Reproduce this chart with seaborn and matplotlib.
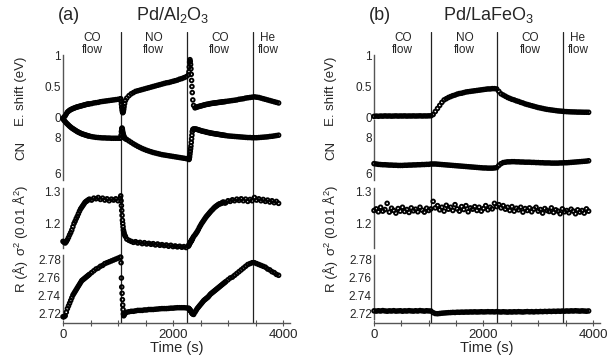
import matplotlib
matplotlib.use("Agg")
import matplotlib.pyplot as plt
import seaborn as sns

# ---- panel (a) Pd/Al2O3 : sampling times (s) and values ----
time_a = [0, 20, 40, 60, 80, 100, 120, 140, 160, 180, 200, 220, 240, 260, 280, 300, 320, 340, 360, 380,
          400, 420, 440, 460, 480,
          520, 560, 600, 640, 680, 720, 760, 800, 840, 880, 920, 960, 1000, 1040,
          1050, 1056, 1062, 1068, 1074, 1080, 1086, 1092, 1098, 1104, 1110, 1120, 1135,
          1160, 1200, 1240, 1280, 1320, 1360, 1400, 1440, 1480, 1520, 1560, 1600, 1640, 1680, 1720, 1760,
          1800, 1840, 1880, 1920, 1960, 2000, 2040, 2080, 2120, 2160, 2200, 2240, 2280,
          2290, 2296, 2302, 2308, 2314, 2320, 2326, 2332, 2338, 2344, 2350, 2360, 2375,
          2400, 2420, 2440, 2460, 2480, 2500, 2520, 2540, 2560, 2580, 2600, 2620, 2640, 2660, 2680, 2700,
          2720, 2740, 2760, 2780, 2800, 2820, 2840, 2860, 2880, 2900, 2920, 2940, 2960,
          3000, 3040, 3080, 3120, 3160, 3200, 3240, 3280, 3320, 3360, 3400, 3440, 3480, 3520, 3560, 3600,
          3640, 3680, 3720, 3760, 3800, 3840, 3880, 3920]

eshift_a = [-0.02, 0.0, 0.02, 0.05, 0.08, 0.095, 0.11, 0.12, 0.13, 0.138, 0.145, 0.152, 0.16, 0.165,
            0.17, 0.175, 0.18, 0.185, 0.19, 0.195, 0.20, 0.205, 0.21, 0.213, 0.215,
            0.22, 0.23, 0.235, 0.24, 0.25, 0.255, 0.26, 0.265, 0.27, 0.275, 0.28, 0.285, 0.29, 0.295,
            0.30, 0.26, 0.21, 0.16, 0.12, 0.09, 0.07, 0.08, 0.10, 0.13, 0.17, 0.22, 0.27,
            0.31, 0.35, 0.38, 0.40, 0.42, 0.43, 0.44, 0.45, 0.46, 0.47, 0.48, 0.49, 0.50, 0.51, 0.52,
            0.53, 0.54, 0.55, 0.56, 0.565, 0.575, 0.585, 0.595, 0.605, 0.62, 0.63, 0.645, 0.66, 0.69,
            0.74, 0.82, 0.90, 0.94, 0.91, 0.86, 0.79, 0.70, 0.60, 0.50, 0.40, 0.28, 0.19,
            0.15, 0.158, 0.165, 0.17, 0.175, 0.18, 0.185, 0.19, 0.195, 0.2, 0.205, 0.208, 0.21, 0.215,
            0.22, 0.222, 0.225, 0.228, 0.23, 0.232, 0.235, 0.238, 0.24, 0.242, 0.245, 0.248, 0.25, 0.252,
            0.255,
            0.26, 0.265, 0.27, 0.275, 0.28, 0.29, 0.295, 0.30, 0.31, 0.315, 0.32, 0.325, 0.33, 0.325,
            0.32, 0.31, 0.30, 0.29, 0.28, 0.27, 0.26, 0.25, 0.24, 0.23]

cn_a = [9.0, 8.92, 8.85, 8.78, 8.72, 8.66, 8.6, 8.55, 8.5, 8.46, 8.42, 8.38, 8.34, 8.3, 8.27, 8.24,
        8.21, 8.18, 8.16, 8.14, 8.12, 8.1, 8.08, 8.06, 8.05,
        8.02, 8.0, 7.98, 7.97, 7.96, 7.95, 7.95, 7.94, 7.94, 7.93, 7.93, 7.93, 7.93, 7.93,
        7.95, 8.1, 8.3, 8.45, 8.5, 8.42, 8.3, 8.2, 8.12, 8.06, 8.0, 7.95, 7.9,
        7.86, 7.78, 7.7, 7.62, 7.55, 7.48, 7.42, 7.36, 7.31, 7.26, 7.22, 7.18, 7.14, 7.11, 7.08,
        7.05, 7.02, 7.0, 6.98, 6.96, 6.94, 6.92, 6.9, 6.88, 6.86, 6.84, 6.82, 6.8, 6.77,
        6.75, 6.8, 6.9, 7.05, 7.2, 7.35, 7.5, 7.7, 7.9, 8.1, 8.3, 8.42, 8.45,
        8.45, 8.44, 8.42, 8.4, 8.38, 8.36, 8.34, 8.32, 8.31, 8.3, 8.28, 8.26, 8.25, 8.24, 8.22, 8.21,
        8.2, 8.19, 8.18, 8.17, 8.16, 8.15, 8.14, 8.13, 8.12, 8.11, 8.1, 8.09, 8.08,
        8.06, 8.05, 8.04, 8.03, 8.02, 8.01, 8.0, 7.99, 7.98, 7.97, 7.97, 7.96, 7.96, 7.96, 7.97, 7.98,
        7.99, 8.0, 8.01, 8.03, 8.04, 8.06, 8.08, 8.1]

sigma2_a = [1.145, 1.142, 1.14, 1.144, 1.15, 1.157, 1.165, 1.172, 1.18, 1.19, 1.2, 1.207, 1.215, 1.222,
            1.23, 1.238, 1.245, 1.25, 1.255, 1.26, 1.265, 1.268, 1.27, 1.273, 1.275,
            1.272, 1.278, 1.276, 1.28, 1.274, 1.278, 1.272, 1.276, 1.27, 1.275, 1.272, 1.276, 1.27, 1.278,
            1.285, 1.27, 1.255, 1.24, 1.225, 1.21, 1.2, 1.19, 1.18, 1.175, 1.17, 1.165, 1.16,
            1.152, 1.148, 1.145, 1.142, 1.144, 1.14, 1.142, 1.138, 1.141, 1.137, 1.139, 1.136, 1.138,
            1.134, 1.137, 1.133, 1.135, 1.132, 1.134, 1.13, 1.133, 1.129, 1.131, 1.128, 1.13, 1.127,
            1.129, 1.126, 1.13,
            1.133, 1.136, 1.138, 1.14, 1.142, 1.143, 1.145, 1.146, 1.148, 1.15, 1.152, 1.155, 1.16,
            1.165, 1.17, 1.175, 1.181, 1.188, 1.194, 1.2, 1.205, 1.21, 1.215, 1.22, 1.224, 1.228, 1.232,
            1.236, 1.24, 1.243, 1.247, 1.25, 1.253, 1.255, 1.258, 1.26, 1.261, 1.262, 1.265, 1.266, 1.263,
            1.264,
            1.27, 1.268, 1.273, 1.27, 1.275, 1.271, 1.276, 1.27, 1.275, 1.268, 1.274, 1.27, 1.28, 1.272,
            1.276, 1.27, 1.274, 1.268, 1.272, 1.266, 1.27, 1.264, 1.268, 1.262]

r_a = [2.717, 2.717, 2.718, 2.722, 2.726, 2.729, 2.732, 2.735, 2.738, 2.741, 2.743, 2.745, 2.747, 2.749,
       2.751, 2.753, 2.755, 2.757, 2.758, 2.759, 2.760, 2.761, 2.762, 2.763, 2.764,
       2.766, 2.768, 2.770, 2.771, 2.773, 2.774, 2.776, 2.777, 2.778, 2.779, 2.780, 2.781, 2.782, 2.783,
       2.783, 2.777, 2.76, 2.75, 2.743, 2.736, 2.73, 2.725, 2.72, 2.718, 2.719, 2.72, 2.721,
       2.722, 2.7225, 2.723, 2.723, 2.7235, 2.724, 2.724, 2.724, 2.7245, 2.7245, 2.725, 2.725, 2.725,
       2.7253, 2.7255, 2.7258, 2.726, 2.726, 2.726, 2.7262, 2.7265, 2.7265, 2.7268, 2.727, 2.727,
       2.727, 2.727, 2.7268, 2.7265,
       2.726, 2.7255, 2.725, 2.7245, 2.724, 2.7235, 2.723, 2.7225, 2.722, 2.721, 2.7205, 2.72, 2.7195,
       2.722, 2.724, 2.726, 2.7275, 2.729, 2.7305, 2.732, 2.7335, 2.735, 2.736, 2.737, 2.738, 2.739,
       2.7405, 2.742, 2.743, 2.744, 2.745, 2.746, 2.747, 2.748, 2.749, 2.750, 2.751, 2.752, 2.753,
       2.754, 2.755, 2.756,
       2.758, 2.760, 2.761, 2.763, 2.765, 2.767, 2.769, 2.771, 2.773, 2.775, 2.776, 2.777, 2.777,
       2.776, 2.775, 2.774, 2.773, 2.772, 2.770, 2.769, 2.767, 2.766, 2.764, 2.763]

# ---- panel (b) Pd/LaFeO3 ----
time_b = [0, 40, 80, 120, 160, 200, 240, 280, 320, 360, 400, 440, 480, 520, 560, 600, 640, 680, 720, 760,
          800, 840, 880, 920, 960, 1000, 1040, 1080, 1120, 1160, 1200, 1240, 1280, 1320, 1360, 1400, 1440,
          1480, 1520, 1560, 1600, 1640, 1680, 1720, 1760, 1800, 1840, 1880, 1920, 1960, 2000, 2040, 2080,
          2120, 2160, 2200, 2240, 2280, 2320, 2360, 2400, 2440, 2480, 2520, 2560, 2600, 2640, 2680, 2720,
          2760, 2800, 2840, 2880, 2920, 2960, 3000, 3040, 3080, 3120, 3160, 3200, 3240, 3280, 3320, 3360,
          3400, 3440, 3480, 3520, 3560, 3600, 3640, 3680, 3720, 3760, 3800, 3840, 3880, 3920]

eshift_b = [0.01, 0.015, 0.012, 0.016, 0.014, 0.018, 0.015, 0.017, 0.014, 0.016, 0.018, 0.015, 0.017,
            0.016, 0.018, 0.015, 0.017, 0.016, 0.018, 0.016, 0.017, 0.019, 0.016, 0.018, 0.017, 0.019, 0.02,
            0.04, 0.09, 0.14, 0.19, 0.24, 0.28, 0.30, 0.32, 0.335, 0.35, 0.36, 0.375, 0.385, 0.39, 0.40,
            0.41, 0.415, 0.42, 0.425, 0.43, 0.435, 0.44, 0.445, 0.45, 0.455, 0.46, 0.46, 0.465, 0.465, 0.46,
            0.42, 0.38, 0.36, 0.34, 0.32, 0.305, 0.29, 0.28, 0.265, 0.255, 0.24, 0.23, 0.215, 0.205, 0.195,
            0.185, 0.175, 0.165, 0.155, 0.148, 0.14, 0.132, 0.125, 0.12, 0.115, 0.11, 0.105, 0.1, 0.097,
            0.094, 0.09, 0.088, 0.086, 0.084, 0.083, 0.082, 0.08, 0.08, 0.079, 0.078, 0.078, 0.077]

cn_b = [6.52, 6.5, 6.48, 6.47, 6.46, 6.46, 6.45, 6.44, 6.44, 6.43, 6.43, 6.42, 6.42, 6.42, 6.43, 6.43,
        6.44, 6.44, 6.45, 6.45, 6.46, 6.46, 6.47, 6.47, 6.48, 6.48, 6.5,
        6.5, 6.5, 6.49, 6.48, 6.47, 6.46, 6.45, 6.44, 6.43, 6.42, 6.41, 6.4, 6.39, 6.38, 6.37, 6.36,
        6.35, 6.34, 6.33, 6.32, 6.31, 6.3, 6.29, 6.28, 6.28, 6.27, 6.27, 6.27, 6.28, 6.3,
        6.42, 6.52, 6.58, 6.6, 6.62, 6.62, 6.63, 6.63, 6.62, 6.62, 6.61, 6.61, 6.6, 6.6, 6.6, 6.59,
        6.59, 6.58, 6.58, 6.57, 6.57, 6.56, 6.56, 6.56, 6.55, 6.55, 6.55, 6.55, 6.56, 6.56, 6.57, 6.57,
        6.58, 6.59, 6.6, 6.61, 6.62, 6.63, 6.64, 6.65, 6.66, 6.68]

sigma2_b = [1.24, 1.245, 1.236, 1.25, 1.238, 1.243, 1.262, 1.235, 1.247, 1.24, 1.232, 1.246, 1.238,
            1.25, 1.237, 1.243, 1.234, 1.248, 1.239, 1.244, 1.236, 1.25, 1.241, 1.235, 1.247, 1.24, 1.245,
            1.268, 1.248, 1.255, 1.242, 1.25, 1.238, 1.256, 1.244, 1.25, 1.24, 1.258, 1.245, 1.238, 1.252,
            1.243, 1.255, 1.236, 1.248, 1.244, 1.252, 1.24, 1.25, 1.238, 1.246, 1.255, 1.242, 1.25, 1.245,
            1.262, 1.252,
            1.258, 1.248, 1.255, 1.244, 1.25, 1.24, 1.252, 1.238, 1.247, 1.242, 1.25, 1.235, 1.246, 1.24,
            1.248, 1.236, 1.244, 1.25, 1.238, 1.243, 1.232, 1.246, 1.24, 1.237, 1.248, 1.234, 1.242,
            1.238, 1.23, 1.245, 1.236, 1.24, 1.233, 1.244, 1.238, 1.23, 1.242, 1.235, 1.24, 1.232, 1.245,
            1.238]

r_b = [2.7235, 2.7232, 2.7236, 2.7233, 2.7238, 2.7234, 2.7231, 2.7235, 2.7233, 2.7237, 2.7232, 2.7234,
       2.7236, 2.7231, 2.7235, 2.7233, 2.7237, 2.7234, 2.7232, 2.7236, 2.7233, 2.7238, 2.7235, 2.7232,
       2.7236, 2.7234, 2.7233,
       2.7215, 2.7205, 2.7203, 2.7206, 2.7209, 2.7211, 2.7213, 2.7215, 2.7216, 2.7218, 2.7217, 2.722,
       2.7219, 2.7221, 2.722, 2.7222, 2.7221, 2.7223, 2.7222, 2.7224, 2.7222, 2.7223, 2.7225, 2.7223,
       2.7224, 2.7226, 2.7224, 2.7225, 2.7223, 2.7226,
       2.7224, 2.7222, 2.7225, 2.7223, 2.7221, 2.7224, 2.7222, 2.7225, 2.7223, 2.7226, 2.7224, 2.7222,
       2.7225, 2.7227, 2.7224, 2.7226, 2.7223, 2.7227, 2.7225, 2.7228, 2.7226, 2.7229, 2.7227, 2.723,
       2.7228, 2.7231, 2.7229, 2.7232, 2.723, 2.7233, 2.7231, 2.7234, 2.7232, 2.7235, 2.7233, 2.7236,
       2.7234, 2.7232, 2.7235, 2.7233, 2.7231, 2.7234]

switch_times = [1050, 2250, 3450]
flow_names = ["CO\nflow", "NO\nflow", "CO\nflow", "He\nflow"]
flow_edges = [0, 1050, 2250, 3450, 4000]

W, H = 613, 355
XMAX = 4120

sns.set_theme(style="white")
plt.rcParams["font.family"] = ["Liberation Sans", "DejaVu Sans"]
plt.rcParams["mathtext.fontset"] = "custom"
plt.rcParams["mathtext.rm"] = "Liberation Sans"
plt.rcParams["mathtext.it"] = "Liberation Sans:italic"
plt.rcParams["mathtext.bf"] = "Liberation Sans:bold"

fig = plt.figure(figsize=(W / 100, H / 100), dpi=100)


def px_axes(x0, x1, y0, y1):
    # axes placed in pixel coordinates (y measured from the top)
    return fig.add_axes([x0 / W, 1 - y1 / H, (x1 - x0) / W, (y1 - y0) / H])


# key, label, spine top/bottom (px), two calibration points (value, px), ticks, label centre y
rows = [
    ("eshift", "E. shift (eV)", 55, 118, (1.0, 56), (0.0, 117), [0, 0.5, 1], ["0", "0.5", "1"], 91),
    ("cn", "CN", 120, 180, (8.0, 137), (6.0, 173), [6, 8], ["6", "8"], 150),
    ("sigma2", "σ$^2$ (0.01 Å$^2$)", 188, 248, (1.3, 191), (1.2, 223.5), [1.2, 1.3], ["1.2", "1.3"], 220),
    ("r", "R (Å)", 255, 319, (2.78, 260), (2.72, 314), [2.72, 2.74, 2.76, 2.78],
     ["2.72", "2.74", "2.76", "2.78"], 276),
]

panels = [
    dict(x0=63, scale=220 / 4000, tag="(a)", tag_x=69, name="Pd/Al$_2$O$_3$", name_x=173, label_x=21,
         time=time_a, data=dict(eshift=eshift_a, cn=cn_a, sigma2=sigma2_a, r=r_a)),
    dict(x0=374, scale=219 / 4000, tag="(b)", tag_x=380, name="Pd/LaFeO$_3$", name_x=488, label_x=331,
         time=time_b, data=dict(eshift=eshift_b, cn=cn_b, sigma2=sigma2_b, r=r_b)),
]

for p in panels:
    x0 = p["x0"]
    x1 = x0 + XMAX * p["scale"]

    # background axes: time axis, gas switch lines and flow labels
    ax_t = px_axes(x0, x1, 32, 323)
    ax_t.set_xlim(0, XMAX)
    ax_t.set_ylim(0, 1)
    for s in ["top", "right", "left"]:
        ax_t.spines[s].set_visible(False)
    ax_t.spines["bottom"].set_color("#555555")
    ax_t.spines["bottom"].set_linewidth(1.0)
    ax_t.set_yticks([])
    ax_t.set_xticks([0, 2000, 4000])
    ax_t.set_xticks([500, 1000, 1500, 2500, 3000, 3500], minor=True)
    ax_t.tick_params(axis="x", which="both", bottom=True, direction="inout", length=5, width=0.8,
                     color="#555555", labelsize=9.5, pad=1.5)
    ax_t.tick_params(axis="x", which="minor", length=4)
    ax_t.set_xlabel("Time (s)", fontsize=10.5, labelpad=0)
    for t in switch_times:
        ax_t.axvline(t, color="#222222", lw=0.9)
    for name, lo, hi in zip(flow_names, flow_edges[:-1], flow_edges[1:]):
        ax_t.text((lo + hi) / 2, 1.0, name, transform=ax_t.get_xaxis_transform(), ha="center",
                  va="top", fontsize=8.5, linespacing=1.05)

    for key, label, y0, y1, (va, pa), (vb, pb), ticks, tlabels, ly in rows:
        ax = px_axes(x0, x1, y0, y1)
        ax.patch.set_visible(False)
        per_px = (va - vb) / (pb - pa)
        ax.set_ylim(va - (y1 - pa) * per_px, va + (pa - y0) * per_px)
        ax.set_xlim(0, XMAX)
        sns.scatterplot(x=p["time"], y=p["data"][key], ax=ax, marker="o", s=7, facecolor="none",
                        edgecolor="black", linewidth=1.35, clip_on=False, legend=False, zorder=3)
        for s in ["top", "right", "bottom"]:
            ax.spines[s].set_visible(False)
        ax.spines["left"].set_color("#555555")
        ax.spines["left"].set_linewidth(1.0)
        ax.set_xticks([])
        ax.set_yticks(ticks, tlabels)
        ax.tick_params(axis="y", length=0, pad=1.5, labelsize=8.5)
        ax.set_xlabel("")
        ax.set_ylabel("")
        fig.text(p["label_x"] / W, 1 - ly / H, label, rotation=90, ha="center", va="center", fontsize=9.5)

    fig.text(p["tag_x"] / W, 1 - 15 / H, p["tag"], ha="center", va="center", fontsize=13)
    fig.text(p["name_x"] / W, 1 - 15 / H, p["name"], ha="center", va="center", fontsize=13)

fig.savefig("out.png", dpi=100)
